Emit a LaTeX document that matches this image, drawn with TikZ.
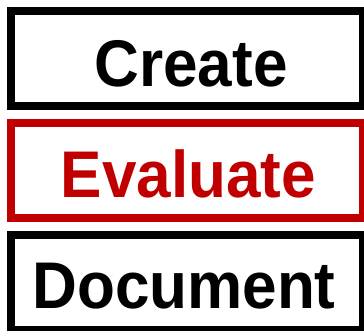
\documentclass[tikz,border=0pt]{standalone}
\usepackage{fontspec}
\setmainfont[FakeStretch=0.94]{Liberation Sans}
\definecolor{stagered}{HTML}{C00000}
\begin{document}
\begin{tikzpicture}[x=1pt, y=-1pt,
  stagebox/.style={draw, line width=8pt, rectangle, minimum width=352pt, minimum height=95pt, inner sep=0pt},
  stagetext/.style={font=\fontsize{66}{66}\selectfont\bfseries, text height=48pt, text depth=0pt, inner sep=0pt}]
  \useasboundingbox (0,0) rectangle (364,331);
  \clip (0,0) rectangle (364,331);
  \node[stagebox] (create) at (187,58.5) {};
  \node[stagebox, draw=stagered] (evaluate) at (187,170.5) {};
  \node[stagebox] (document) at (187,282.5) {};
  \node[stagetext] (createlabel) at (191,62.5) {Create};
  \node[stagetext, text=stagered] (evaluatelabel) at (188.5,174) {Evaluate};
  \node[stagetext] (documentlabel) at (184,284) {Document};
\end{tikzpicture}
\end{document}
